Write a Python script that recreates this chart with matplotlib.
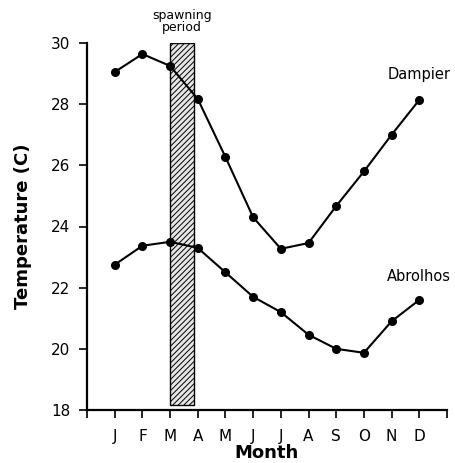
import matplotlib
matplotlib.use("Agg")
import matplotlib.pyplot as plt

months = ["J", "F", "M", "A", "M", "J", "J", "A", "S", "O", "N", "D"]
dampier = [29.05, 29.64, 29.25, 28.17, 26.27, 24.3, 23.27, 23.46, 24.67, 25.8, 27.0, 28.14]
abrolhos = [22.75, 23.37, 23.5, 23.3, 22.5, 21.7, 21.2, 20.46, 20.0, 19.87, 20.9, 21.6]
spawn_start, spawn_end = 3.0, 3.88
spawn_bottom, spawn_top = 18.15, 30.0

plt.rcParams["hatch.linewidth"] = 0.7
fig = plt.figure(figsize=(4.55, 4.63), dpi=100)
ax = fig.add_axes([87 / 455, 1 - 410 / 463, 360 / 455, 367 / 463])

x = list(range(1, 13))
ax.bar(spawn_start, spawn_top - spawn_bottom, width=spawn_end - spawn_start,
       bottom=spawn_bottom, align="edge", facecolor="#e6e6e6",
       edgecolor="black", hatch="//////", linewidth=1.0, zorder=1)

for vals in (dampier, abrolhos):
    ax.plot(x, vals, color="black", lw=1.5, marker="o", ms=5.5, zorder=3)

ax.text(spawn_start + (spawn_end - spawn_start) / 2, 30.3, "spawning\nperiod",
        ha="center", va="bottom", fontsize=9, linespacing=0.85)
ax.text(12.0, 28.72, "Dampier", ha="center", va="bottom", fontsize=10.5)
ax.text(12.0, 22.12, "Abrolhos", ha="center", va="bottom", fontsize=10.5)

ax.set_xlim(0, 13)
ax.set_ylim(18, 30)
ax.set_xticks(range(0, 14))
ax.set_xticklabels([""] + months + [""])
ax.set_yticks(range(18, 31, 2))
ax.tick_params(axis="both", direction="out", length=6, width=1.2, labelsize=11, pad=6)
ax.tick_params(axis="x", pad=8)

for side in ("top", "right"):
    ax.spines[side].set_visible(False)
for side in ("left", "bottom"):
    ax.spines[side].set_linewidth(1.6)

ax.set_xlabel("Month", fontsize=13, fontweight="bold", labelpad=0)
ax.set_ylabel("Temperature (C)", fontsize=13, fontweight="bold", labelpad=14)

fig.savefig("out.png", dpi=100)
